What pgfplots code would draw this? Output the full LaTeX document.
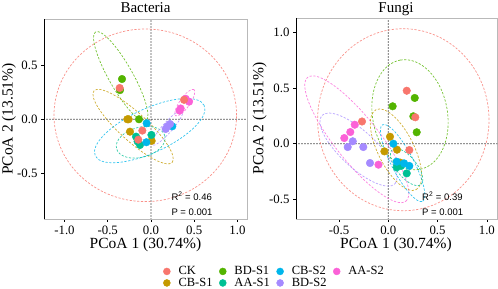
\documentclass[border=0pt]{standalone}
\usepackage{fontspec}
\setmainfont{Liberation Serif}
\newfontfamily\arialf{Liberation Sans}
\usepackage{pgfplots}
\pgfplotsset{compat=1.18}
\definecolor{cCK}{HTML}{F8766D}
\definecolor{cCBa}{HTML}{C49A00}
\definecolor{cBDa}{HTML}{53B400}
\definecolor{cAAa}{HTML}{00C094}
\definecolor{cCBb}{HTML}{00B6EB}
\definecolor{cBDb}{HTML}{A58AFF}
\definecolor{cAAb}{HTML}{FB61D7}
\tikzset{ell/.style={draw=#1, draw opacity=0.8, line width=0.7pt, dash pattern=on 2.2pt off 1.6pt}}
\pgfplotsset{
  pcoa/.style={
    scale only axis, anchor=south west,
    axis line style={gray!55, line width=0.6pt},
    tick align=outside, xtick pos=left, ytick pos=left,
    major tick length=3pt,
    tick style={black, line width=0.6pt},
    ticklabel style={font=\fontsize{12.8}{14}\selectfont},
  },
  pts/.style={only marks, mark=*, mark size=3.8pt, color=#1, forget plot},
}
\begin{document}
\begin{tikzpicture}
\useasboundingbox (0,0) rectangle (498pt,289pt);
% ---------------- Bacteria ----------------
\begin{axis}[pcoa, at={(44pt,70pt)}, width=203pt, height=200pt,
  xmin=-1.237, xmax=1.11, ymin=-0.924, ymax=0.929,
  xtick={-1,-0.5,0,0.5,1}, xticklabels={-1.0,-0.5,0.0,0.5,1.0},
  ytick={-0.5,0,0.5}, yticklabels={-0.5,0.0,0.5},
  legend columns=4,
  legend image code/.code={\fill[#1] (0pt,0pt) circle (3.5pt);},
  legend style={at={(0.586,-0.2325)}, anchor=north west, draw=none, fill=none,
    font=\fontsize{12.5}{13}\selectfont, inner sep=0pt,
    nodes={inner xsep=2pt, inner ysep=0.5pt, text height=8.5pt, text depth=2pt, anchor=west},
    /tikz/every odd column/.append style={column sep=6pt},
    /tikz/every even column/.append style={column sep=4.5pt}},
]
\draw[black, line width=1.3pt, line cap=round, dash pattern=on 0pt off 3pt] (axis cs:0,-0.924) -- (axis cs:0,0.929);
\draw[black, line width=1.3pt, line cap=round, dash pattern=on 0pt off 3pt] (axis cs:-1.237,0) -- (axis cs:1.11,0);
% ellipses
\draw[ell=cCK] (axis cs:-0.066,0.037) ellipse [x radius=91.3pt, y radius=86.3pt];
\draw[ell=cBDa, rotate around={119.5:(axis cs:-0.35,0.398)}] (axis cs:-0.35,0.398) ellipse [x radius=51pt, y radius=12pt];
\draw[ell=cCBa, rotate around={-42.5:(axis cs:-0.207,-0.068)}] (axis cs:-0.207,-0.068) ellipse [x radius=53pt, y radius=14pt];
\draw[ell=cCBb, rotate around={24.8:(axis cs:-0.015,-0.105)}] (axis cs:-0.015,-0.105) ellipse [x radius=60pt, y radius=22pt];
\draw[ell=cAAa, rotate around={15:(axis cs:-0.119,-0.213)}] (axis cs:-0.119,-0.213) ellipse [x radius=25pt, y radius=15pt];
\draw[ell=cBDb, rotate around={48.8:(axis cs:0.189,-0.079)}] (axis cs:0.189,-0.079) ellipse [x radius=23pt, y radius=5pt];
\draw[ell=cAAb, rotate around={55:(axis cs:0.391,0.154)}] (axis cs:0.391,0.154) ellipse [x radius=16pt, y radius=5pt];
% points
\addplot[pts=cCBa] table {
x y
-0.274 0.0
-0.258 0.0
-0.243 -0.115
0.008 -0.2
};
\addplot[pts=cBDa] table {
x y
-0.335 0.373
-0.358 0.27
-0.139 0.0
};
\addplot[pts=cAAa] table {
x y
-0.173 -0.161
-0.155 -0.205
-0.127 -0.238
0.005 -0.145
};
\addplot[pts=cCBb] table {
x y
-0.05 -0.037
-0.054 -0.213
0.246 -0.065
};
\addplot[pts=cBDb] table {
x y
0.17 -0.09
0.19 -0.065
0.22 -0.044
};
\addplot[pts=cAAb] table {
x y
0.33 0.08
0.343 0.1
0.44 0.163
0.40 0.19
};
\addplot[pts=cCK] table {
x y
-0.362 0.29
-0.10 -0.105
-0.147 -0.189
0.382 0.18
};
\draw[black, line width=0.9pt] (rel axis cs:0,1) -- (rel axis cs:0,0) -- (rel axis cs:1,0);
% legend (row-major order)
\addlegendimage{cCK}\addlegendentry{CK}
\addlegendimage{cBDa}\addlegendentry{BD-S1}
\addlegendimage{cCBb}\addlegendentry{CB-S2}
\addlegendimage{cAAb}\addlegendentry{AA-S2}
\addlegendimage{cCBa}\addlegendentry{CB-S1}
\addlegendimage{cAAa}\addlegendentry{AA-S1}
\addlegendimage{cBDb}\addlegendentry{BD-S2}
\end{axis}
% ---------------- Fungi ----------------
\begin{axis}[pcoa, at={(296pt,70pt)}, width=201pt, height=201pt,
  xmin=-0.937, xmax=1.103, ymin=-0.678, ymax=1.132,
  xtick={-0.5,0,0.5,1}, xticklabels={-0.5,0.0,0.5,1.0},
  ytick={-0.5,0,0.5,1}, yticklabels={-0.5,0.0,0.5,1.0},
]
\draw[black, line width=1.3pt, line cap=round, dash pattern=on 0pt off 3pt] (axis cs:0,-0.678) -- (axis cs:0,1.132);
\draw[black, line width=1.3pt, line cap=round, dash pattern=on 0pt off 3pt] (axis cs:-0.937,0) -- (axis cs:1.103,0);
\draw[ell=cCK] (axis cs:0.152,0.216) ellipse [x radius=85.7pt, y radius=91pt];
\draw[ell=cBDa, rotate around={100:(axis cs:0.22,0.261)}] (axis cs:0.22,0.261) ellipse [x radius=55.5pt, y radius=37.5pt];
\draw[ell=cAAb, rotate around={-51.6:(axis cs:-0.32,0.04)}] (axis cs:-0.32,0.04) ellipse [x radius=79pt, y radius=22pt];
\draw[ell=cBDb, rotate around={-43:(axis cs:-0.303,-0.053)}] (axis cs:-0.303,-0.053) ellipse [x radius=50pt, y radius=18pt];
\draw[ell=cCBa, rotate around={-63.4:(axis cs:0.078,-0.054)}] (axis cs:0.078,-0.054) ellipse [x radius=44.7pt, y radius=18pt];
\draw[ell=cCBb, rotate around={-62.4:(axis cs:0.145,-0.174)}] (axis cs:0.145,-0.174) ellipse [x radius=43.2pt, y radius=11pt];
\draw[ell=cAAa, rotate around={-51:(axis cs:0.186,-0.210)}] (axis cs:0.186,-0.210) ellipse [x radius=22.5pt, y radius=10pt];
\addplot[pts=cBDb] table {
x y
-0.361 0.022
-0.412 -0.03
-0.254 -0.03
-0.186 -0.174
};
\addplot[pts=cAAb] table {
x y
-0.341 0.171
-0.386 0.105
-0.447 0.051
-0.1 -0.189
};
\addplot[pts=cBDa] table {
x y
0.044 0.337
0.268 0.412
0.254 0.247
0.288 0.103
};
\addplot[pts=cCK] table {
x y
0.187 0.477
0.274 0.238
-0.267 0.2
0.213 -0.057
};
\addplot[pts=cCBa] table {
x y
0.017 0.063
0.088 -0.054
-0.04 -0.069
0.12 -0.17
};
\addplot[pts=cAAa] table {
x y
0.085 -0.213
0.187 -0.267
0.13 -0.2
};
\addplot[pts=cCBb] table {
x y
0.051 0.0
0.085 -0.162
0.16 -0.177
0.213 -0.2
};
\draw[black, line width=0.9pt] (rel axis cs:0,1) -- (rel axis cs:0,0) -- (rel axis cs:1,0);
\end{axis}
% ---------------- texts ----------------
\node[anchor=base, inner sep=0] at (145.5pt,276.3pt) {\fontsize{15}{16}\selectfont Bacteria};
\node[anchor=base, inner sep=0] at (396pt,276.3pt) {\fontsize{15}{16}\selectfont Fungi};
\node[anchor=base, inner sep=0] at (145.5pt,40.7pt) {\fontsize{15.5}{16}\selectfont PCoA 1 (30.74\%)};
\node[anchor=base, inner sep=0] at (396pt,40.7pt) {\fontsize{15.5}{16}\selectfont PCoA 1 (30.74\%)};
\node[anchor=base, inner sep=0, rotate=90] at (12.7pt,170pt) {\fontsize{15.5}{16}\selectfont PCoA 2 (13.51\%)};
\node[anchor=base, inner sep=0, rotate=90] at (263.3pt,170.5pt) {\fontsize{15.5}{16}\selectfont PCoA 2 (13.51\%)};
\node[anchor=base west, inner sep=0] at (171.3pt,88.3pt) {\arialf\fontsize{9.5}{10}\selectfont R\textsuperscript{2} = 0.46};
\node[anchor=base west, inner sep=0] at (171.3pt,73.3pt) {\arialf\fontsize{9.5}{10}\selectfont P = 0.001};
\node[anchor=base west, inner sep=0] at (422pt,88.3pt) {\arialf\fontsize{9.5}{10}\selectfont R\textsuperscript{2} = 0.39};
\node[anchor=base west, inner sep=0] at (422pt,73.7pt) {\arialf\fontsize{9.5}{10}\selectfont P = 0.001};
\end{tikzpicture}
\end{document}
